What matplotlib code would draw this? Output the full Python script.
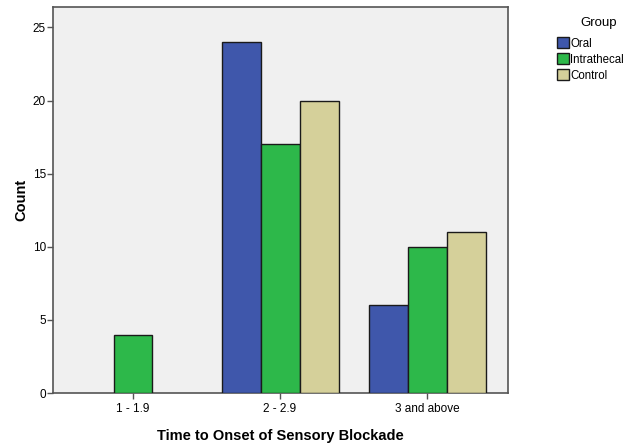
import matplotlib
matplotlib.use("Agg")
import matplotlib.pyplot as plt
import numpy as np
from matplotlib.patches import Patch

categories = ["1 - 1.9", "2 - 2.9", "3 and above"]
groups = ["Oral", "Intrathecal", "Control"]
oral = [0, 24, 6]
intrathecal = [4, 17, 10]
control = [0, 20, 11]
colors = ["#3F57AB", "#2DB84A", "#D5D09A"]

plt.rcParams['font.family'] = ['Liberation Sans', 'DejaVu Sans']

fig = plt.figure(figsize=(6.23, 4.46), dpi=100)
ax = fig.add_axes([53/623, 1-393/446, (508-53)/623, (393-7)/446])
ax.set_facecolor("#F0F0F0")

x = np.arange(len(categories))
w = 0.265
for i, (vals, c) in enumerate(zip([oral, intrathecal, control], colors)):
    xs = [xi + (i-1)*w for xi, v in zip(x, vals) if v > 0]
    vs = [v for v in vals if v > 0]
    ax.bar(xs, vs, width=w, color=c, edgecolor="#1a1a1a", linewidth=1.0, zorder=3)

ax.set_xlim(-0.544, 2.55)
ax.set_ylim(0, 26.4)
ax.set_yticks([0, 5, 10, 15, 20, 25])
ax.set_xticks(x)
ax.set_xticklabels(categories, fontsize=8.5)
ax.tick_params(axis='y', labelsize=8.5, length=4, width=1, color="#555555", pad=1)
ax.tick_params(axis='x', length=4, width=1, color="#555555", pad=3)
for s in ax.spines.values():
    s.set_color("#555555")
    s.set_linewidth(1.2)
ax.set_ylabel("Count", fontsize=10.5, fontweight="bold", labelpad=3)
ax.set_xlabel("Time to Onset of Sensory Blockade", fontsize=10.5, fontweight="bold", labelpad=10)

handles = [Patch(facecolor=c, edgecolor="#1a1a1a", label=g) for g, c in zip(groups, colors)]
leg = fig.legend(handles=handles, title="Group", loc="upper left",
                 bbox_to_anchor=(549/623, 1-9/446), frameon=False, fontsize=8.3,
                 title_fontsize=9.5, handlelength=1.0, handleheight=1.1,
                 handletextpad=0.15, labelspacing=0.3, borderpad=0.2)
leg._legend_box.sep = 6
leg.get_title().set_position((8, 0))

fig.savefig("out.png", dpi=100)
